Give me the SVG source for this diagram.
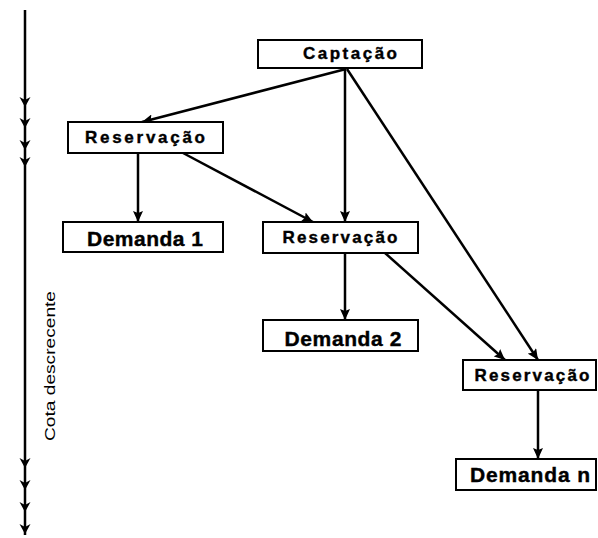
<svg xmlns="http://www.w3.org/2000/svg" width="598" height="538" viewBox="0 0 598 538">
<style>
.box{fill:#fff;stroke:#000;stroke-width:2}
.lbl{font-family:"Liberation Sans",Arial,sans-serif;font-weight:bold;fill:#000;stroke:#000;stroke-width:0.4;text-anchor:middle}
.conn{stroke:#000;stroke-width:2.5;fill:none;marker-end:url(#ah)}
</style>
<defs>
<marker id="ah" markerUnits="userSpaceOnUse" markerWidth="12" markerHeight="10" refX="11" refY="5" orient="auto">
<path d="M0,0 L11,5 L0,10 L2,5 z" fill="#000"/>
</marker>
<path id="vh" d="M-5.5,-10 L0,-7 L5.5,-10 L0,0 z" fill="#000"/>
</defs>
<rect width="598" height="538" fill="#fff"/>
<g id="axis">
<line x1="25" y1="10" x2="25" y2="535" stroke="#000" stroke-width="2.5"/>
<use href="#vh" x="25" y="107"/>
<use href="#vh" x="25" y="128"/>
<use href="#vh" x="25" y="150"/>
<use href="#vh" x="25" y="167"/>
<use href="#vh" x="25" y="468"/>
<use href="#vh" x="25" y="490"/>
<use href="#vh" x="25" y="512"/>
<use href="#vh" x="25" y="534"/>
<text transform="translate(55,366) rotate(-90)" text-anchor="middle" font-family="'Liberation Sans',Arial,sans-serif" font-size="14" textLength="150" lengthAdjust="spacingAndGlyphs">Cota descrecente</text>
</g>
<g id="connectors">
<line class="conn" x1="346" y1="69" x2="142" y2="122"/>
<line class="conn" x1="345" y1="69" x2="345" y2="222"/>
<line class="conn" x1="347" y1="69" x2="538" y2="360"/>
<line class="conn" x1="138" y1="153" x2="138" y2="222"/>
<line class="conn" x1="183" y1="153" x2="313" y2="222"/>
<line class="conn" x1="345" y1="253" x2="345" y2="320"/>
<line class="conn" x1="385" y1="253" x2="505" y2="360"/>
<line class="conn" x1="538" y1="390" x2="538" y2="459"/>
</g>
<g id="captacao">
<rect class="box" x="258" y="40" width="164" height="28"/>
<text class="lbl" x="350" y="59" font-size="17" textLength="94" lengthAdjust="spacing">Captação</text>
</g>
<g id="reservacao1">
<rect class="box" x="68" y="122" width="155" height="31"/>
<text class="lbl" x="145" y="143" font-size="17" textLength="120" lengthAdjust="spacing">Reservação</text>
</g>
<g id="demanda1">
<rect class="box" x="63" y="222" width="160" height="30"/>
<text class="lbl" x="145" y="246" font-size="21" textLength="116" lengthAdjust="spacing">Demanda 1</text>
</g>
<g id="reservacao2">
<rect class="box" x="263" y="222" width="155" height="31"/>
<text class="lbl" x="340" y="243" font-size="17" textLength="115" lengthAdjust="spacing">Reservação</text>
</g>
<g id="demanda2">
<rect class="box" x="263" y="320" width="155" height="31"/>
<text class="lbl" x="343" y="346" font-size="21" textLength="117" lengthAdjust="spacing">Demanda 2</text>
</g>
<g id="reservacao3">
<rect class="box" x="463" y="360" width="133" height="30"/>
<text class="lbl" x="532" y="381" font-size="17" textLength="115" lengthAdjust="spacing">Reservação</text>
</g>
<g id="demandan">
<rect class="box" x="456" y="459" width="140" height="31"/>
<text class="lbl" x="530" y="482" font-size="21" textLength="120" lengthAdjust="spacing">Demanda n</text>
</g>
</svg>
